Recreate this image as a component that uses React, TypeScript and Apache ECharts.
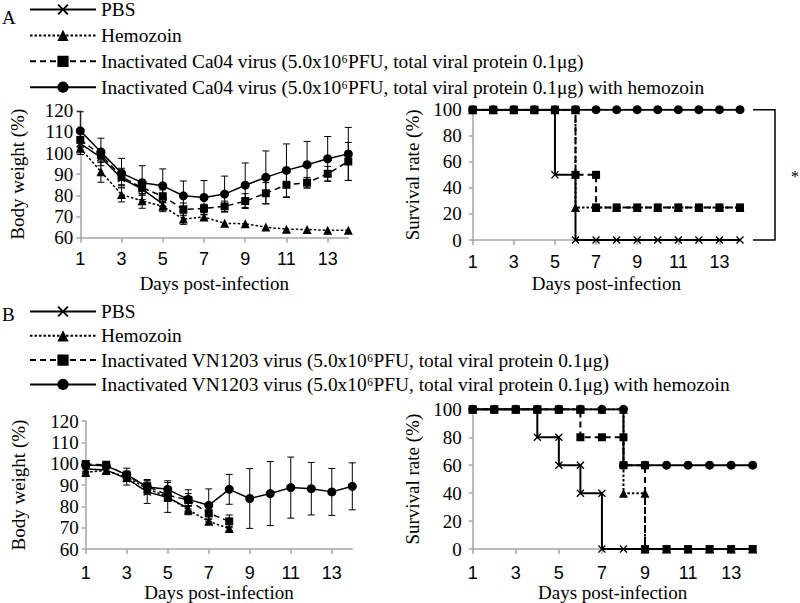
import React, { useEffect, useRef } from "react";
import * as echarts from "echarts";

// ---------- DATA ----------
const days = [1, 2, 3, 4, 5, 6, 7, 8, 9, 10, 11, 12, 13, 14];
const xTicks = [1, 3, 5, 7, 9, 11, 13];

const namesA = [
  "PBS",
  "Hemozoin",
  "Inactivated Ca04 virus (5.0x10⁶PFU, total viral protein 0.1μg)",
  "Inactivated Ca04 virus (5.0x10⁶PFU, total viral protein 0.1μg) with hemozoin",
];
const namesB = [
  "PBS",
  "Hemozoin",
  "Inactivated VN1203 virus (5.0x10⁶PFU, total viral protein 0.1μg)",
  "Inactivated VN1203 virus (5.0x10⁶PFU, total viral protein 0.1μg) with hemozoin",
];

// Panel A body weight (mean, sd)
const pbsWeightA = [104.5, 98, 88, 83, 76];
const pbsSdA = [2, 2.5, 3, 3, 2.5];
const hemoWeightA = [102.3, 91.2, 80.4, 77.4, 74.8, 68.8, 69.8, 66.8, 66.6, 65, 64, 63.9, 63.5, 63.5];
const hemoSdA = [3, 5, 3.5, 3.5, 2.5, 2.5, 1, 0, 0, 0, 0, 0, 0, 0];
const virWeightA = [106.2, 99.2, 88.8, 83.6, 79.6, 73.4, 73.8, 74.8, 77.3, 81, 85, 86, 90.2, 96];
const virSdA = [3, 2, 4, 3, 3, 3, 2, 2.5, 3.5, 5, 6, 2.5, 3.5, 9];
const vhWeightA = [110.5, 100.5, 90.5, 86, 84.5, 79.8, 79, 80.6, 84.8, 88.5, 91.8, 94.5, 97.3, 99.6];
const vhSdA = [9, 6.5, 7, 8, 8, 7, 8, 8.5, 10.5, 12.5, 12.5, 11, 10.5, 12.5];

// Panel A survival (day, %)
const pbsSurvA = [[1, 100], [2, 100], [3, 100], [4, 100], [5, 100], [5, 50], [6, 50], [6, 0], [7, 0], [8, 0], [9, 0], [10, 0], [11, 0], [12, 0], [13, 0], [14, 0]];
const hemoSurvA = [[1, 100], [2, 100], [3, 100], [4, 100], [5, 100], [6, 100], [6, 25], [7, 25], [8, 25], [9, 25], [10, 25], [11, 25], [12, 25], [13, 25], [14, 25]];
const virSurvA = [[1, 100], [2, 100], [3, 100], [4, 100], [5, 100], [6, 100], [6, 50], [7, 50], [7, 25], [8, 25], [9, 25], [10, 25], [11, 25], [12, 25], [13, 25], [14, 25]];
const vhSurvA = [[1, 100], [2, 100], [3, 100], [4, 100], [5, 100], [6, 100], [7, 100], [8, 100], [9, 100], [10, 100], [11, 100], [12, 100], [13, 100], [14, 100]];

// Panel B body weight (mean, sd)
const pbsWeightB = [97.5, 97, 93, 86.8, 84.2, 79.1];
const pbsSdB = [2, 1.5, 3, 5.4, 7, 3];
const hemoWeightB = [96, 96.8, 93.7, 88.3, 84.5, 78.4, 73, 69.6];
const hemoSdB = [2, 1.5, 2, 2, 2, 2, 1.5, 1];
const virWeightB = [99.8, 99.5, 94.5, 89.4, 85.3, 83, 76.8, 73];
const virSdB = [1.5, 1, 2, 2, 3, 3, 3, 3];
const vhWeightB = [99.4, 99, 94.9, 89.1, 88, 83.3, 80.5, 88, 83.7, 86, 88.8, 88.3, 86.8, 89.4];
const vhSdB = [2, 1.5, 3, 3.5, 4, 4.5, 7.7, 7, 14, 15, 14.3, 12.3, 11, 11];

// Panel B survival (day, %)
const pbsSurvB = [[1, 100], [2, 100], [3, 100], [4, 100], [4, 80], [5, 80], [5, 60], [6, 60], [6, 40], [7, 40], [7, 0], [8, 0], [9, 0], [10, 0], [11, 0], [12, 0], [13, 0], [14, 0]];
const hemoSurvB = [[1, 100], [2, 100], [3, 100], [4, 100], [5, 100], [6, 100], [7, 100], [8, 100], [8, 40], [9, 40], [9, 0], [10, 0], [11, 0], [12, 0], [13, 0], [14, 0]];
const virSurvB = [[1, 100], [2, 100], [3, 100], [4, 100], [5, 100], [6, 100], [6, 80], [7, 80], [8, 80], [8, 60], [9, 60], [9, 0], [10, 0], [11, 0], [12, 0], [13, 0], [14, 0]];
const vhSurvB = [[1, 100], [2, 100], [3, 100], [4, 100], [5, 100], [6, 100], [7, 100], [8, 100], [8, 60], [9, 60], [10, 60], [11, 60], [12, 60], [13, 60], [14, 60]];

// ---------- STYLE ----------
const SERIF = "'Liberation Serif', 'Times New Roman', serif";
const SANS = "'Liberation Sans', Arial, sans-serif";
const AXIS_GRAY = "#a6a6a6";
const CROSS = "path://M0,1.2L1.2,0L5,3.8L8.8,0L10,1.2L6.2,5L10,8.8L8.8,10L5,6.2L1.2,10L0,8.8L3.8,5Z";

type Kind = "pbs" | "hemo" | "vir" | "vh";
const styleOf: Record<Kind, { symbol: string; size: number; dash: any }> = {
  pbs: { symbol: CROSS, size: 8, dash: "solid" },
  hemo: { symbol: "triangle", size: 9, dash: [2.5, 2] },
  vir: { symbol: "rect", size: 8, dash: [6, 4] },
  vh: { symbol: "circle", size: 9, dash: "solid" },
};

function lineSeries(name: string, kind: Kind, data: any[], gi: number, width: number) {
  const s = styleOf[kind];
  return {
    name,
    type: "line",
    xAxisIndex: gi,
    yAxisIndex: gi,
    data,
    symbol: s.symbol,
    symbolSize: s.size,
    showAllSymbol: true,
    itemStyle: { color: "#000" },
    lineStyle: { color: "#000", width, type: s.dash },
    emphasis: { disabled: true },
    z: 3,
  };
}

function weightData(vals: number[]) {
  return vals.map((v, i) => [days[i], v]);
}

function errSeries(vals: number[], sds: number[], gi: number) {
  const data = vals
    .map((v, i) => [days[i], v - sds[i], v + sds[i], sds[i]])
    .filter((d) => d[3] > 0);
  return {
    type: "custom",
    xAxisIndex: gi,
    yAxisIndex: gi,
    data,
    encode: { x: 0, y: [1, 2] },
    silent: true,
    z: 2,
    renderItem: (_p: any, api: any) => {
      const x = api.value(0);
      const lo = api.coord([x, api.value(1)]);
      const hi = api.coord([x, api.value(2)]);
      const w = 3.5;
      const st = { stroke: "#000", lineWidth: 1 };
      return {
        type: "group",
        children: [
          { type: "line", shape: { x1: lo[0], y1: lo[1], x2: hi[0], y2: hi[1] }, style: st },
          { type: "line", shape: { x1: lo[0] - w, y1: lo[1], x2: lo[0] + w, y2: lo[1] }, style: st },
          { type: "line", shape: { x1: hi[0] - w, y1: hi[1], x2: hi[0] + w, y2: hi[1] }, style: st },
        ],
      };
    },
  };
}

function xAxis(gi: number, margin: number, nameGap: number) {
  return {
    type: "value",
    gridIndex: gi,
    min: 1,
    max: 14,
    interval: 2,
    name: "Days post-infection",
    nameLocation: "middle",
    nameGap,
    nameTextStyle: { fontFamily: SERIF, fontSize: 19, color: "#000" },
    axisLine: { show: true, lineStyle: { color: AXIS_GRAY, width: 1.5 } },
    axisTick: { show: true, length: 5, customValues: xTicks, lineStyle: { color: AXIS_GRAY, width: 1.5 } },
    axisLabel: { customValues: xTicks, margin, fontFamily: SANS, fontSize: 18, color: "#000" },
    splitLine: { show: false },
  };
}

function yAxis(gi: number, min: number, max: number, interval: number, name: string, nameGap: number, margin: number) {
  return {
    type: "value",
    gridIndex: gi,
    min,
    max,
    interval,
    name,
    nameLocation: "middle",
    nameRotate: 90,
    nameGap,
    nameTextStyle: { fontFamily: SERIF, fontSize: 19, color: "#000" },
    axisLine: { show: true, lineStyle: { color: AXIS_GRAY, width: 1.5 } },
    axisTick: { show: true, length: 4, lineStyle: { color: AXIS_GRAY, width: 1.5 } },
    axisLabel: { margin, fontFamily: SERIF, fontSize: 19, color: "#000" },
    splitLine: { show: false },
  };
}

function legend(names: string[], top: number, gap: number) {
  return {
    orient: "vertical",
    left: 29,
    top,
    padding: 0,
    itemWidth: 66,
    itemHeight: 14,
    itemGap: gap,
    selectedMode: false,
    data: names,
    textStyle: { fontFamily: SERIF, fontSize: 19.4, color: "#000" },
  };
}

export default function App() {
  const ref = useRef<HTMLDivElement>(null);
  useEffect(() => {
    if (!ref.current) return;
    const chart = echarts.init(ref.current, null, { renderer: "svg" });
    const option: any = {
      animation: false,
      backgroundColor: "#fff",
      legend: [legend(namesA, 0, 6.9), legend(namesB, 302, 5.3)],
      grid: [
        { left: 80.3, top: 110.7, width: 268, height: 127 },
        { left: 472.7, top: 109.7, width: 267.3, height: 130.3 },
        { left: 85.7, top: 421, width: 266.6, height: 130.7 },
        { left: 472.7, top: 409.3, width: 280, height: 141.7 },
      ],
      xAxis: [xAxis(0, 12, 36), xAxis(1, 13, 34), xAxis(2, 15, 32), xAxis(3, 15, 32)],
      yAxis: [
        yAxis(0, 60, 120, 10, "Body weight (%)", 53, 7),
        yAxis(1, 0, 100, 20, "Survival rate (%)", 51, 11),
        yAxis(2, 60, 120, 10, "Body weight (%)", 58, 7),
        yAxis(3, 0, 100, 20, "Survival rate (%)", 51, 11),
      ],
      series: [
        // A weight
        errSeries(vhWeightA, vhSdA, 0),
        errSeries(pbsWeightA, pbsSdA, 0),
        errSeries(hemoWeightA, hemoSdA, 0),
        errSeries(virWeightA, virSdA, 0),
        lineSeries(namesA[3], "vh", weightData(vhWeightA), 0, 1.5),
        lineSeries(namesA[0], "pbs", weightData(pbsWeightA), 0, 1.5),
        lineSeries(namesA[1], "hemo", weightData(hemoWeightA), 0, 1.5),
        lineSeries(namesA[2], "vir", weightData(virWeightA), 0, 1.5),
        // A survival
        lineSeries(namesA[3], "vh", vhSurvA, 1, 2),
        lineSeries(namesA[0], "pbs", pbsSurvA, 1, 2),
        lineSeries(namesA[1], "hemo", hemoSurvA, 1, 2),
        lineSeries(namesA[2], "vir", virSurvA, 1, 2),
        // B weight
        errSeries(vhWeightB, vhSdB, 2),
        errSeries(pbsWeightB, pbsSdB, 2),
        errSeries(hemoWeightB, hemoSdB, 2),
        errSeries(virWeightB, virSdB, 2),
        lineSeries(namesB[3], "vh", weightData(vhWeightB), 2, 1.5),
        lineSeries(namesB[0], "pbs", weightData(pbsWeightB), 2, 1.5),
        lineSeries(namesB[1], "hemo", weightData(hemoWeightB), 2, 1.5),
        lineSeries(namesB[2], "vir", weightData(virWeightB), 2, 1.5),
        // B survival
        lineSeries(namesB[3], "vh", vhSurvB, 3, 2),
        lineSeries(namesB[0], "pbs", pbsSurvB, 3, 2),
        lineSeries(namesB[1], "hemo", hemoSurvB, 3, 2),
        lineSeries(namesB[2], "vir", virSurvB, 3, 2),
      ],
    };
    chart.setOption(option);

    // significance bracket next to panel A survival
    const top = chart.convertToPixel({ gridIndex: 1 }, [14, 100]) as number[];
    const bot = chart.convertToPixel({ gridIndex: 1 }, [14, 0]) as number[];
    const x0 = top[0] + 13;
    const x1 = top[0] + 35;
    const lineStyle = { stroke: "#000", lineWidth: 1.5 };
    chart.setOption({
      graphic: [
        { type: "text", left: 2, top: 8, style: { text: "A", font: `19px ${SERIF}`, fill: "#000" } },
        { type: "text", left: 2, top: 305, style: { text: "B", font: `19px ${SERIF}`, fill: "#000" } },
        { type: "polyline", shape: { points: [[x0, top[1]], [x1, top[1]], [x1, bot[1]], [x0, bot[1]]] }, style: { ...lineStyle, fill: "none" } },
        { type: "text", x: x1 + 20, y: (top[1] + bot[1]) / 2 + 2, style: { text: "*", font: `16px ${SERIF}`, fill: "#000", align: "center", verticalAlign: "middle" } },
      ],
    });
    return () => chart.dispose();
  }, []);
  return (
    <div
      ref={ref}
      style={{ position: "fixed", left: 0, top: 0, width: 800, height: 603, background: "#fff" }}
    />
  );
}
